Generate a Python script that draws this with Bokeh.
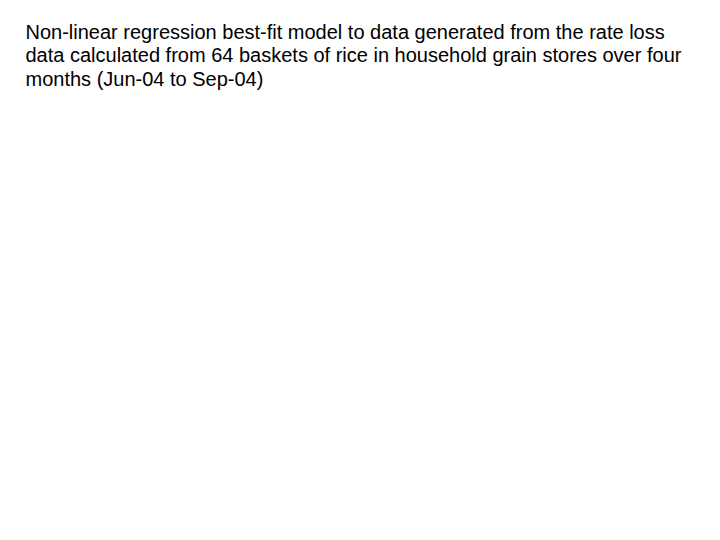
from bokeh.plotting import figure
from bokeh.models import Range1d, ColumnDataSource
from bokeh.core.properties import value
from bokeh.embed import file_html
from bokeh.resources import INLINE

title_lines = [
    "Non-linear regression best-fit model to data generated from the rate loss",
    "data calculated from 64 baskets of rice in household grain stores over four",
    "months (Jun-04 to Sep-04)",
]

W, H = 704, 524
p = figure(width=W, height=H, output_backend="svg", toolbar_location=None,
           x_range=Range1d(0, W), y_range=Range1d(H, 0),
           min_border=0, min_border_left=0, min_border_right=0,
           min_border_top=0, min_border_bottom=0)
p.axis.visible = False
p.grid.visible = False
p.outline_line_color = None
p.background_fill_color = "white"
p.border_fill_color = "white"

x0, y0, dy = 25, 31, 23.5
src = ColumnDataSource(dict(
    x=[x0] * len(title_lines),
    y=[y0 + i * dy for i in range(len(title_lines))],
    text=title_lines,
))
p.text(x="x", y="y", text="text", source=src,
       text_font=value("Liberation Sans"), text_font_size="20px",
       text_color="black", text_baseline="alphabetic", text_align="left")

open("out.html", "w").write(file_html(p, INLINE))
